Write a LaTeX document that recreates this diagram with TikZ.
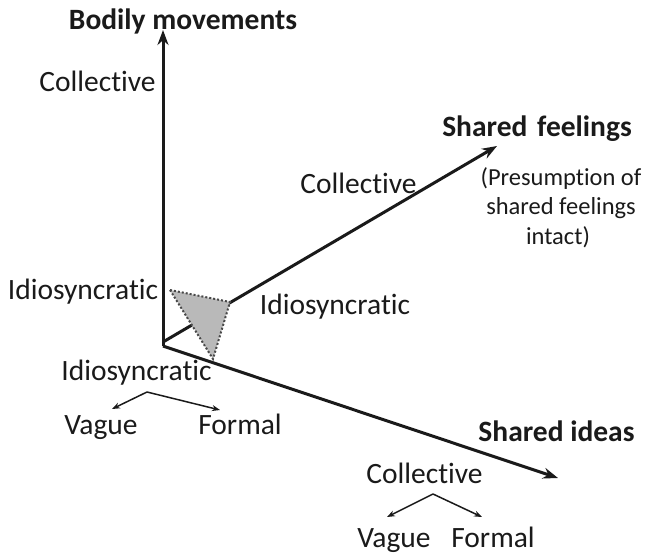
\documentclass[tikz,border=0pt]{standalone}
\usepackage{fontspec}
\setmainfont{Carlito}[Ligatures={NoCommon,NoRequired,NoContextual}]
\usetikzlibrary{arrows.meta}
\definecolor{ink}{HTML}{1A1A1A}
\begin{document}
\begin{tikzpicture}[x=1pt,y=-1pt,
  lbl/.style={inner sep=0pt,anchor=base,text=ink,font=\fontsize{29.5}{32}\selectfont},
  blbl/.style={lbl,font=\fontsize{29.5}{32}\selectfont\bfseries},
  note/.style={inner sep=0pt,anchor=base,text=ink,align=center,font=\fontsize{24.5}{29.5}\selectfont},
  axis/.style={line width=3pt,draw=ink,-{Stealth[length=15pt,width=11pt]}},
  small/.style={line width=1.5pt,draw=ink,-{Stealth[length=8pt,width=6pt]}},
  tri/.style={fill=gray!55,draw=ink!80,line width=2pt,dotted}]
\useasboundingbox (0,0) rectangle (645,557);
% axes
\coordinate (o) at (163,346);
\coordinate (of) at (163,342);
\coordinate (top) at (163,30);
\coordinate (fe) at (497,146);
\coordinate (ie) at (558,478);
\draw[axis] (o) -- (top);
\draw[axis] (of) -- (fe);
\draw[axis] (o) -- (ie);
% triangle
\coordinate (t1) at (170,290);
\coordinate (t2) at (230,302);
\coordinate (t3) at (213,359);
\filldraw[tri] (t1) -- (t2) -- (t3) -- cycle;
% labels (positions are baselines)
\node[blbl] (bm) at (183,29) {Bodily movements};
\node[lbl] (colv) at (97.5,91) {Collective};
\node[blbl] (sf) at (537,136) {Shared\hspace{0.33em}feelings};
\node[lbl] (colf) at (358.5,193) {Collective};
\node[note] (p1) at (561,185) {(Presumption of};
\node[note] (p2) at (561,214) {shared feelings};
\node[note] (p3) at (558,244) {intact)};
\node[lbl] (idl) at (83,299) {Idiosyncratic};
\node[lbl] (idr) at (335,314) {Idiosyncratic};
\node[lbl] (idb) at (136.5,380) {Idiosyncratic};
\node[lbl] (vg1) at (101,434) {Vague};
\node[lbl] (fm1) at (240,434) {Formal};
\node[blbl] (si) at (556.5,441) {Shared ideas};
\node[lbl] (colb) at (424.5,483) {Collective};
\node[lbl] (vg2) at (394,547) {Vague};
\node[lbl] (fm2) at (493,547) {Formal};
% small branching arrows
\coordinate (a1) at (147,392);
\coordinate (a1l) at (112,409);
\coordinate (a1r) at (220,410);
\draw[small] (a1) -- (a1l);
\draw[small] (a1) -- (a1r);
\coordinate (a2) at (433,494);
\coordinate (a2l) at (387,517);
\coordinate (a2r) at (482,517);
\draw[small] (a2) -- (a2l);
\draw[small] (a2) -- (a2r);
\end{tikzpicture}
\end{document}
